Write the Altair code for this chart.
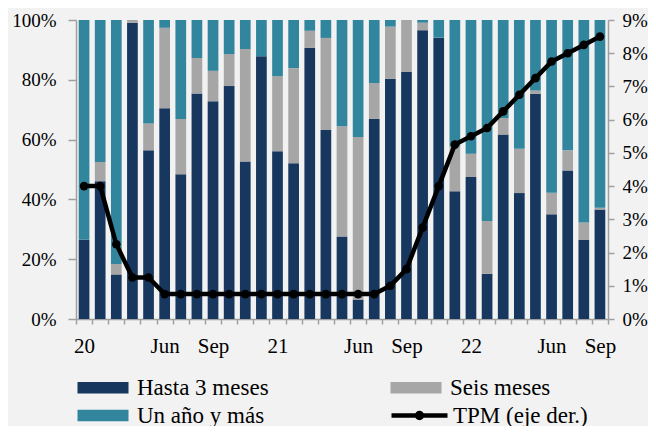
import altair as alt
import pandas as pd

FONT = "Liberation Serif"

# Months Jan 2020 .. Sep 2022 (index 0..32)
meses = list(range(33))
etiquetas = ["20", "", "", "", "", "Jun", "", "", "Sep", "", "", "",
             "21", "", "", "", "", "Jun", "", "", "Sep", "", "", "",
             "22", "", "", "", "", "Jun", "", "", "Sep"]

hasta = [26.5, 46.1, 14.9, 99.1, 56.4, 70.5, 48.4, 75.4, 72.8, 77.9, 52.7, 87.9,
         56.1, 52.1, 90.7, 63.2, 27.6, 6.5, 66.9, 80.3, 82.6, 96.6, 94.1, 42.7,
         47.5, 15.1, 61.7, 42.1, 75.3, 35.0, 49.7, 26.4, 36.6]
seis = [0.0, 6.4, 3.5, 0.9, 9.0, 26.9, 18.5, 11.9, 10.2, 10.7, 37.6, 0.0,
        25.1, 31.8, 5.7, 30.8, 36.9, 54.4, 12.0, 17.5, 17.4, 2.5, 0.0, 15.0,
        7.8, 17.7, 5.5, 14.8, 1.1, 7.2, 6.7, 5.9, 0.6]
un_anio = [round(100 - h - s, 1) for h, s in zip(hasta, seis)]
tpm = [4.0, 4.0, 2.25, 1.25, 1.25, 0.75, 0.75, 0.75, 0.75, 0.75, 0.75, 0.75,
       0.75, 0.75, 0.75, 0.75, 0.75, 0.75, 0.75, 1.0, 1.5, 2.75, 4.0, 5.25,
       5.5, 5.75, 6.25, 6.75, 7.25, 7.75, 8.0, 8.25, 8.5]

series = ["Hasta 3 meses", "Seis meses", "Un año y más"]
colores = ["#17375E", "#A6A6A6", "#31859C"]
# legend fills column by column: Hasta / Un año in first column, Seis in second
orden_leyenda = ["Hasta 3 meses", "Un año y más", "Seis meses"]
colores_leyenda = ["#17375E", "#31859C", "#A6A6A6"]
serie_tpm = "TPM (eje der.)"

rows = []
for i in meses:
    for k, (s, vals) in enumerate(zip(series, [hasta, seis, un_anio])):
        rows.append({"idx": i, "serie": s, "valor": vals[i], "orden": k})
df_b = pd.DataFrame(rows)
df_l = pd.DataFrame({"idx": meses, "tpm": tpm, "serie": [serie_tpm] * len(meses)})

lab_js = "[" + ",".join("'" + e + "'" for e in etiquetas) + "]"
x_enc = alt.X(
    "idx:Q",
    scale=alt.Scale(domain=[-0.5, 32.5], nice=False, zero=False, padding=0),
    axis=alt.Axis(values=[i - 0.5 for i in range(34)],
                  labelExpr=lab_js + "[round(datum.value + 0.5)] || ''",
                  labelOffset=8, tickSize=5, labelPadding=11, labelOverlap=False,
                  labelFlush=False, title=None, grid=False, labelFontSize=21),
)

bars = alt.Chart(df_b).mark_bar(size=10.7).encode(
    x=x_enc,
    y=alt.Y("valor:Q", stack="zero",
            scale=alt.Scale(domain=[0, 100], nice=False),
            axis=alt.Axis(orient="left", values=[0, 20, 40, 60, 80, 100],
                          labelExpr="datum.value + '%'", tickSize=8, labelPadding=12,
                          title=None, grid=False, labelFontSize=19)),
    color=alt.Color("serie:N", scale=alt.Scale(domain=orden_leyenda, range=colores_leyenda),
                    legend=alt.Legend(title=None, orient="none", legendX=0, legendY=356,
                                      columns=2, symbolType="M-1,-0.58H4.1V0.58H-1Z",
                                      symbolSize=400, symbolStrokeWidth=0,
                                      labelFontSize=23, labelOffset=38, labelLimit=400,
                                      columnPadding=120, rowPadding=4, padding=0)),
    order=alt.Order("orden:Q", sort="ascending"),
)

y_tpm = alt.Y("tpm:Q", scale=alt.Scale(domain=[0, 9], nice=False),
              axis=alt.Axis(orient="right", values=list(range(10)),
                            labelExpr="datum.value + '%'", tickSize=6, labelPadding=8,
                            title=None, grid=False, labelFontSize=19))

line = alt.Chart(df_l).mark_line(strokeWidth=4.5).encode(
    x=x_enc, y=y_tpm,
    color=alt.Color("serie:N", scale=alt.Scale(range=["#000000"]),
                    legend=alt.Legend(title=None, orient="none", legendX=313, legendY=383,
                                      symbolType="M-1,0H4.6M1.55,0A0.25,0.25,0,1,0,2.05,0A0.25,0.25,0,1,0,1.55,0Z",
                                      symbolSize=400, symbolStrokeWidth=4.5,
                                      labelFontSize=23, labelOffset=39, labelLimit=400,
                                      padding=0)),
)
pts = alt.Chart(df_l).mark_circle(size=75, color="#000000", opacity=1).encode(x=x_enc, y=y_tpm)

chart = alt.layer(bars, alt.layer(line, pts)).resolve_scale(
    y="independent", color="independent"
).properties(
    width=532, height=299,
    padding={"left": 68, "top": 12, "right": 40, "bottom": 107},
    autosize=alt.AutoSizeParams(type="none"),
    background="#F2F2F2",
).configure_view(stroke=None).configure_axis(
    labelFont=FONT, labelColor="#000000", domainColor="#A0A0A0", tickColor="#A0A0A0",
    domainWidth=1.5, tickWidth=1.5,
).configure_legend(labelFont=FONT, labelColor="#000000")

chart.save("out.html", embed_options={"renderer": "svg", "actions": False})
